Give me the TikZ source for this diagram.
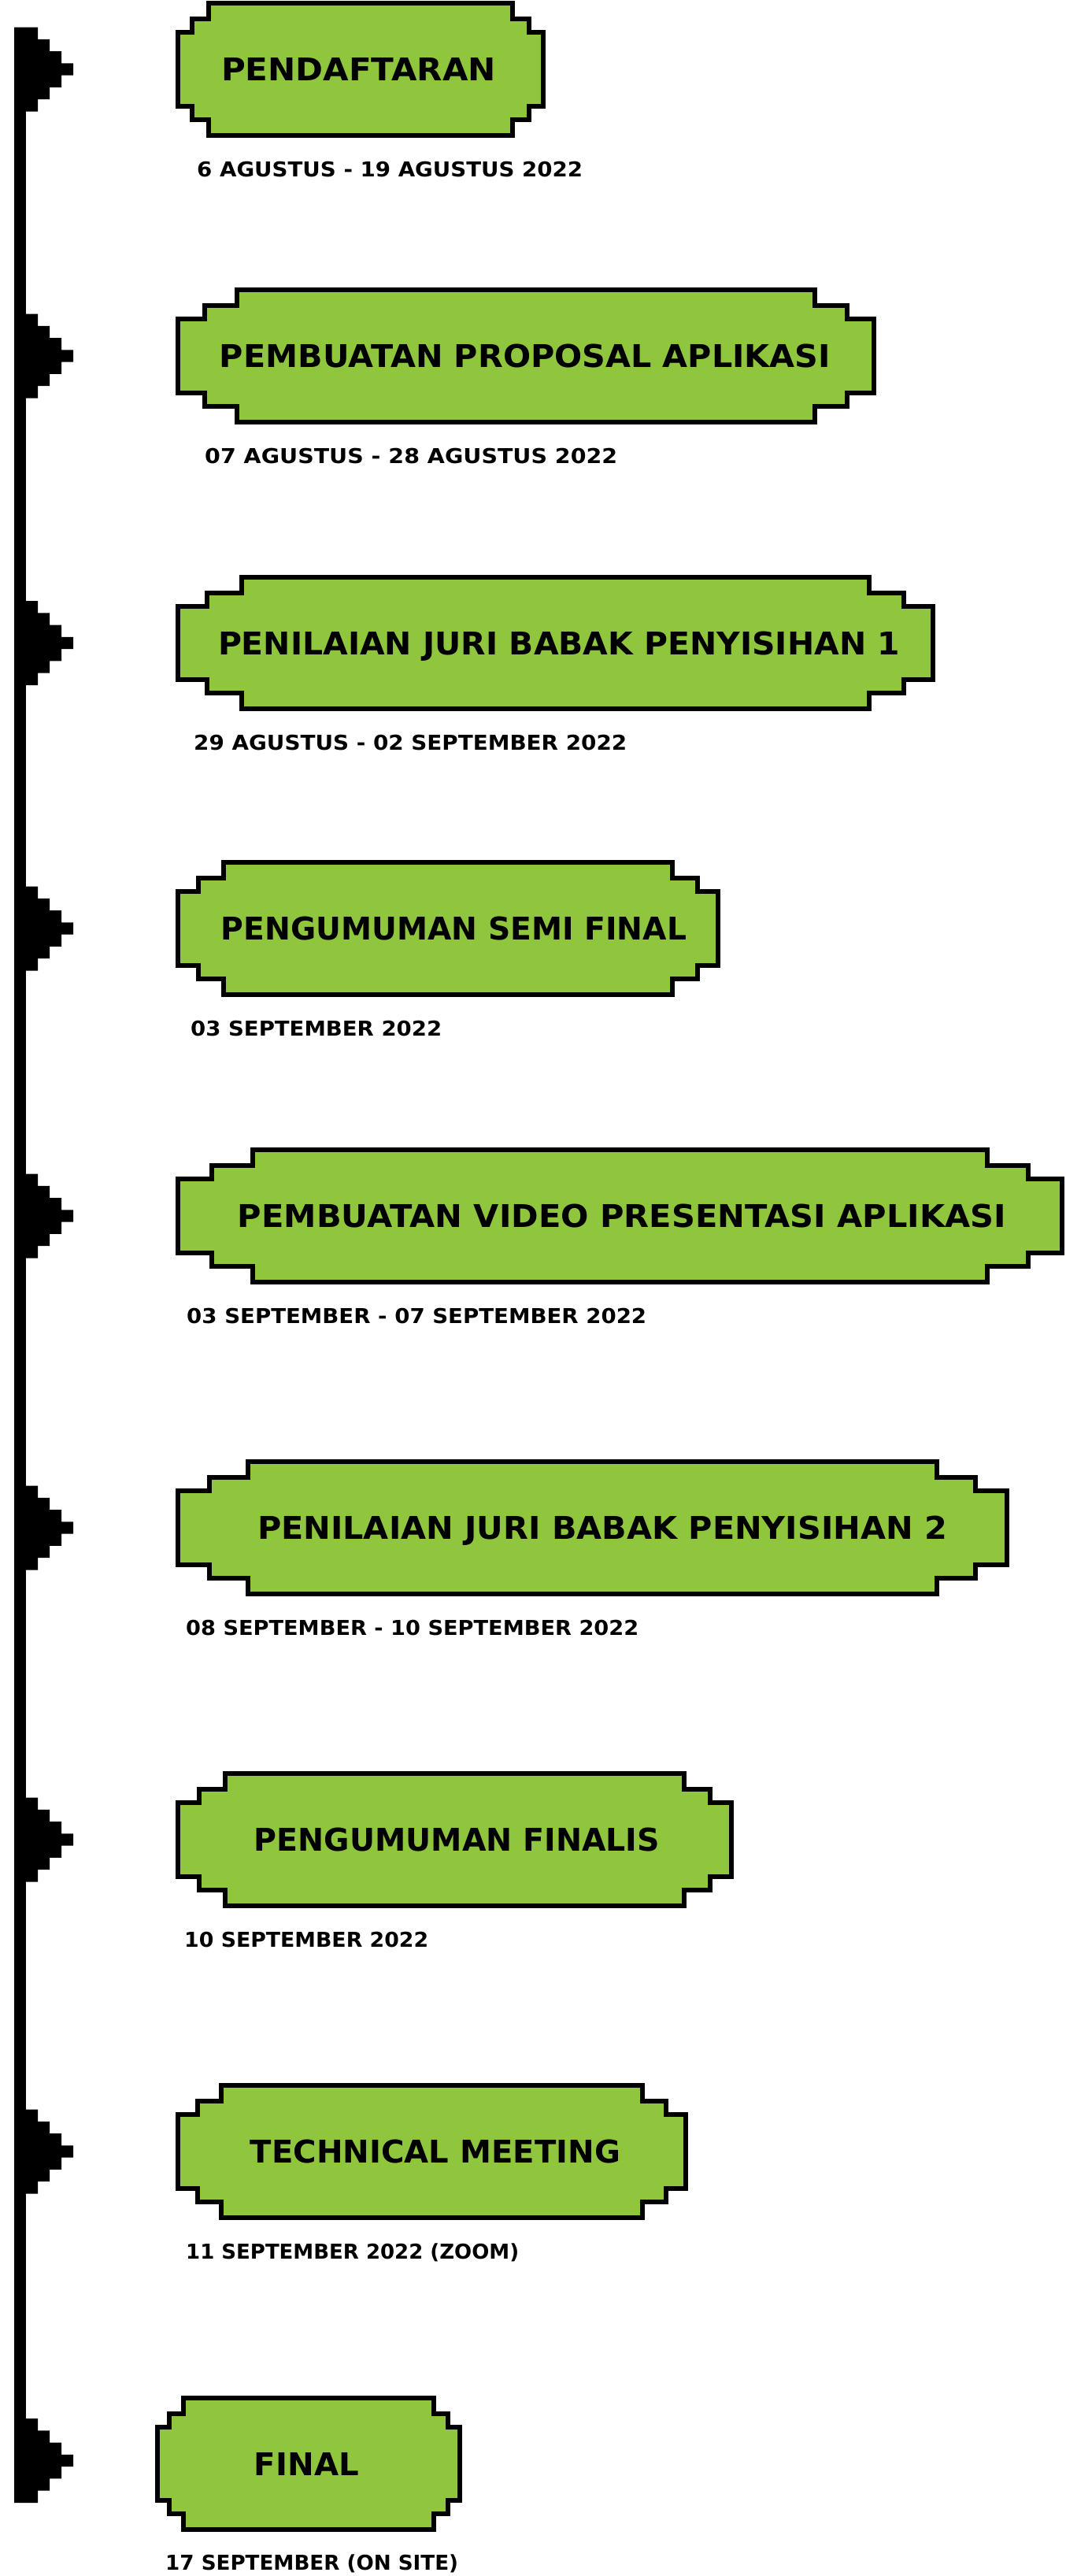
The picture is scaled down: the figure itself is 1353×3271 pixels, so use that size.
\documentclass[tikz,border=0pt]{standalone}
\usepackage{graphicx}
\usepackage{fontspec}
\setmainfont{DejaVu Sans}
\definecolor{boxgreen}{RGB}{143,198,61}
\tikzset{
  boxline/.style={draw=black, fill=boxgreen, line width=6pt, line join=miter},
  boxtext/.style={anchor=base, inner sep=0pt, font=\bfseries\fontsize{39.8}{40}\selectfont},
  datetext/.style={anchor=base west, inner sep=0pt, font=\bfseries\fontsize{26}{27}\selectfont},
  markfill/.style={fill=black},
  timeline/.style={line width=15pt, line cap=butt, draw=black}
}
% name, L, R, T, B, text centre x, text width, text
\newcommand\stagebox[8]{%
  \pgfmathsetmacro\bxl{#2+3}%
  \pgfmathsetmacro\bxr{#3-3}%
  \pgfmathsetmacro\bxt{#4+3}%
  \pgfmathsetmacro\bxb{#5-3}%
  \pgfmathsetmacro\bxa{0.038*(#3-#2)}%
  \pgfmathsetmacro\bxc{0.084*(#3-#2)}%
  \draw[boxline] (\bxl+\bxc,\bxt) -- (\bxr-\bxc,\bxt) -- (\bxr-\bxc,\bxt+20) -- (\bxr-\bxa,\bxt+20)
    -- (\bxr-\bxa,\bxt+37) -- (\bxr,\bxt+37) -- (\bxr,\bxb-37) -- (\bxr-\bxa,\bxb-37) -- (\bxr-\bxa,\bxb-20)
    -- (\bxr-\bxc,\bxb-20) -- (\bxr-\bxc,\bxb) -- (\bxl+\bxc,\bxb) -- (\bxl+\bxc,\bxb-20)
    -- (\bxl+\bxa,\bxb-20) -- (\bxl+\bxa,\bxb-37) -- (\bxl,\bxb-37) -- (\bxl,\bxt+37) -- (\bxl+\bxa,\bxt+37)
    -- (\bxl+\bxa,\bxt+20) -- (\bxl+\bxc,\bxt+20) -- cycle;
  \node[boxtext] (#1) at (#6,{(#4+#5)/2+14.5}) {\resizebox{#7pt}{\height}{#8}};
}
\newcommand\tlmark[2]{%
  \coordinate (#1) at (18,#2);
  \fill[markfill] (18,#2-53.5) -- (48,#2-53.5) -- (48,#2-38.2) -- (63,#2-38.2) -- (63,#2-22.9) -- (78,#2-22.9)
    -- (78,#2-7.6) -- (93,#2-7.6) -- (93,#2+7.6) -- (78,#2+7.6) -- (78,#2+22.9) -- (63,#2+22.9)
    -- (63,#2+38.2) -- (48,#2+38.2) -- (48,#2+53.5) -- (18,#2+53.5) -- cycle;
}
\newcommand\datew[2]{\resizebox{#1pt}{\height}{#2}}
\begin{document}
\begin{tikzpicture}[x=1pt,y=-1pt]
\useasboundingbox (0,0) rectangle (1353,3271);
\coordinate (ltop) at (25.5,34.5);
\coordinate (lbot) at (25.5,3178);
\draw[timeline] (ltop) -- (lbot);
\tlmark{m1}{88}
\tlmark{m2}{452}
\tlmark{m3}{816.5}
\tlmark{m4}{1179}
\tlmark{m5}{1544}
\tlmark{m6}{1940}
\tlmark{m7}{2336}
\tlmark{m8}{2732}
\tlmark{m9}{3124.5}
\stagebox{b1}{223}{693}{1}{175}{455.5}{349}{PENDAFTARAN}
\stagebox{b2}{223}{1113}{365}{539}{667}{776}{PEMBUATAN PROPOSAL APLIKASI}
\stagebox{b3}{223}{1188}{730}{903}{710}{866}{PENILAIAN JURI BABAK PENYISIHAN 1}
\stagebox{b4}{223}{915}{1092}{1266}{576.5}{591}{PENGUMUMAN SEMI FINAL}
\stagebox{b5}{223}{1352}{1457}{1631}{790}{976}{PEMBUATAN VIDEO PRESENTASI APLIKASI}
\stagebox{b6}{223}{1282}{1853}{2027}{765}{876}{PENILAIAN JURI BABAK PENYISIHAN 2}
\stagebox{b7}{223}{932}{2249}{2423}{580.5}{515}{PENGUMUMAN FINALIS}
\stagebox{b8}{223}{874}{2645}{2819}{553}{470}{TECHNICAL MEETING}
\stagebox{b9}{197}{587}{3042}{3215}{389.5}{133}{FINAL}
\node[datetext] (d1) at (250,224) {\datew{490}{6 AGUSTUS - 19 AGUSTUS 2022}};
\node[datetext] (d2) at (260,588) {\datew{524}{07 AGUSTUS - 28 AGUSTUS 2022}};
\node[datetext] (d3) at (246,952) {\datew{550}{29 AGUSTUS - 02 SEPTEMBER 2022}};
\node[datetext] (d4) at (242,1315) {\datew{319}{03 SEPTEMBER 2022}};
\node[datetext] (d5) at (237,1680) {\datew{584}{03 SEPTEMBER - 07 SEPTEMBER 2022}};
\node[datetext] (d6) at (236,2076) {\datew{575}{08 SEPTEMBER - 10 SEPTEMBER 2022}};
\node[datetext] (d7) at (234,2472) {\datew{310}{10 SEPTEMBER 2022}};
\node[datetext] (d8) at (236,2868) {\datew{423}{11 SEPTEMBER 2022 (ZOOM)}};
\node[datetext] (d9) at (210,3263) {\datew{372}{17 SEPTEMBER (ON SITE)}};
\end{tikzpicture}
\end{document}
